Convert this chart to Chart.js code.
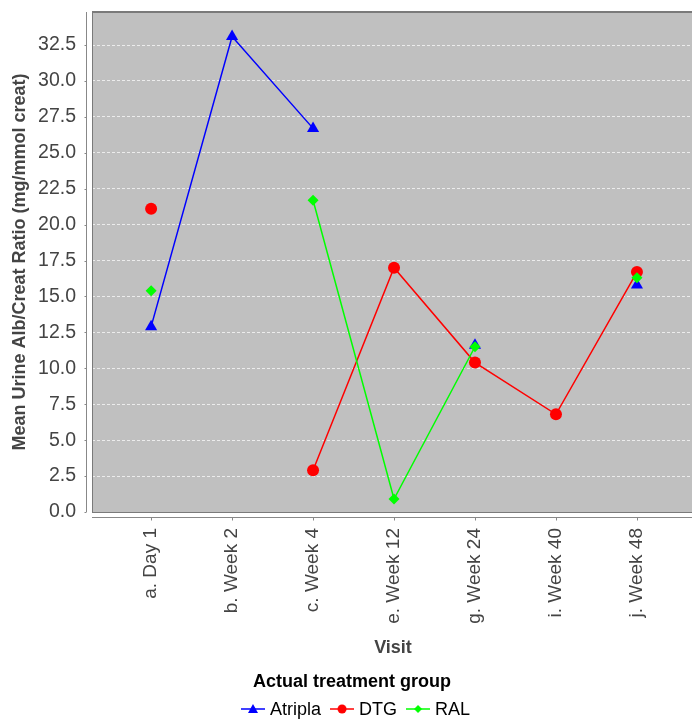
<!DOCTYPE html>
<html>
<head>
<meta charset="utf-8">
<script src="https://cdn.jsdelivr.net/npm/chart.js@4.4.1/dist/chart.umd.min.js"></script>
<style>
  html, body { margin: 0; padding: 0; background: #fff; overflow: hidden; }
  #wrap { width: 692px; height: 719px; position: relative; }
  canvas { display: block; }
</style>
</head>
<body>
<div id="wrap"><canvas id="myChart" width="692" height="719"></canvas></div>
<script>
// visits on the x axis
const visits = ['a. Day 1', 'b. Week 2', 'c. Week 4', 'e. Week 12', 'g. Week 24', 'i. Week 40', 'j. Week 48'];

// mean urine alb/creat ratio per treatment group (null = no value)
const atripla = [12.9, 33.1, 26.7, null, 11.6, null, 15.8];
const dtg = [21.1, null, 2.9, 17.0, 10.4, 6.8, 16.7];
const ral = [15.4, null, 21.7, 0.9, 11.5, null, 16.3];

const yTicks = [0, 2.5, 5, 7.5, 10, 12.5, 15, 17.5, 20, 22.5, 25, 27.5, 30, 32.5];

const FONT = '"Liberation Sans", Arial, sans-serif';

function toPoints(arr) {
    return arr.map((v, i) => ({ x: i, y: v }));
}

// small legend icon: line with the series marker in the middle
function markerIcon(color, style) {
    const c = document.createElement('canvas');
    c.width = 24; c.height = 12;
    const g = c.getContext('2d');
    g.strokeStyle = color;
    g.fillStyle = color;
    g.lineWidth = 1.5;
    g.beginPath(); g.moveTo(0, 6); g.lineTo(24, 6); g.stroke();
    g.beginPath();
    if (style === 'triangle') {
        g.moveTo(12, 1); g.lineTo(17, 10); g.lineTo(7, 10);
    } else if (style === 'circle') {
        g.arc(12, 6, 4.5, 0, Math.PI * 2);
    } else {
        g.moveTo(12, 2); g.lineTo(16, 6); g.lineTo(12, 10); g.lineTo(8, 6);
    }
    g.closePath(); g.fill();
    return c;
}

// later series are painted on top, as in the original
const series = [
    { label: 'Atripla', data: atripla, color: '#0000ff', style: 'triangle', radius: 7, order: 2 },
    { label: 'DTG', data: dtg, color: '#ff0000', style: 'circle', radius: 6, order: 1 },
    { label: 'RAL', data: ral, color: '#00ff00', style: 'rectRot', radius: 5.5, order: 0 }
];

// plot frame, axis lines, titles and legend, drawn like the original
const framePlugin = {
    id: 'frame',
    beforeDraw(chart) {
        const a = chart.chartArea;
        const ctx = chart.ctx;
        ctx.save();
        ctx.fillStyle = '#c0c0c0';
        ctx.fillRect(a.left, a.top, a.right - a.left, a.bottom - a.top);
        ctx.restore();
    },
    afterDraw(chart) {
        const a = chart.chartArea;
        const ctx = chart.ctx;
        const ys = chart.scales.y;
        const xs = chart.scales.x;
        ctx.save();
        // plot outline
        ctx.strokeStyle = '#7a7a7a';
        ctx.lineWidth = 1;
        ctx.strokeRect(a.left + 0.5, a.top + 0.5, a.right - a.left, a.bottom - a.top);
        ctx.lineWidth = 2;
        ctx.beginPath(); ctx.moveTo(a.left, a.top); ctx.lineTo(a.right, a.top); ctx.stroke();
        // y axis line
        ctx.strokeStyle = '#888';
        ctx.lineWidth = 1;
        const axX = a.left - 5.5;
        ctx.beginPath(); ctx.moveTo(axX, a.top); ctx.lineTo(axX, a.bottom); ctx.stroke();
        yTicks.forEach(v => {
            const py = Math.round(ys.getPixelForValue(v)) + 0.5;
            ctx.beginPath(); ctx.moveTo(axX - 2, py); ctx.lineTo(axX, py); ctx.stroke();
        });
        // x axis line
        const axY = a.bottom + 5.5;
        ctx.beginPath(); ctx.moveTo(a.left, axY); ctx.lineTo(a.right, axY); ctx.stroke();
        visits.forEach((v, i) => {
            const px = Math.round(xs.getPixelForValue(i)) + 0.5;
            ctx.beginPath(); ctx.moveTo(px, axY); ctx.lineTo(px, axY + 3); ctx.stroke();
        });
        // axis titles
        ctx.fillStyle = '#444';
        ctx.font = 'bold 18px ' + FONT;
        ctx.textAlign = 'center';
        ctx.textBaseline = 'middle';
        ctx.fillText('Visit', 393, 648);
        ctx.save();
        ctx.translate(20, (a.top + a.bottom) / 2);
        ctx.rotate(-Math.PI / 2);
        ctx.fillText('Mean Urine Alb/Creat Ratio (mg/mmol creat)', 0, 0);
        ctx.restore();
        // legend
        ctx.fillStyle = '#000';
        ctx.fillText('Actual treatment group', 352, 682);
        ctx.font = '18px ' + FONT;
        ctx.textAlign = 'left';
        let x = 241;
        series.forEach(s => {
            ctx.drawImage(s.icon, x, 703);
            x += 29;
            ctx.fillStyle = '#000';
            ctx.fillText(s.label, x, 710);
            x += ctx.measureText(s.label).width + 9;
        });
        ctx.restore();
    }
};

series.forEach(s => { s.icon = markerIcon(s.color, s.style); });

const ctx = document.getElementById('myChart').getContext('2d');
new Chart(ctx, {
    type: 'line',
    data: {
        datasets: series.map(s => ({
            label: s.label,
            data: toPoints(s.data),
            order: s.order,
            borderColor: s.color,
            backgroundColor: s.color,
            borderWidth: 1.5,
            pointStyle: s.style,
            pointRadius: s.radius,
            pointBorderWidth: 0,
            pointHoverRadius: s.radius,
            spanGaps: false,
            tension: 0
        }))
    },
    options: {
        responsive: false,
        animation: false,
        layout: { autoPadding: false, padding: { top: 12, right: 0, bottom: 59, left: 0 } },
        plugins: {
            legend: { display: false },
            tooltip: { enabled: false }
        },
        scales: {
            x: {
                type: 'linear',
                min: -0.73,
                max: 6.68,
                afterBuildTicks: s => { s.ticks = visits.map((v, i) => ({ value: i })); },
                afterFit: s => {
                    s.height = 148;
                    s.paddingLeft = 0; s.paddingRight = 0;
                    s.paddingTop = 0; s.paddingBottom = 0;
                },
                grid: { display: false, drawTicks: false },
                border: { display: false },
                ticks: {
                    callback: v => visits[v],
                    maxRotation: 90,
                    minRotation: 90,
                    padding: 16,
                    color: '#444',
                    font: { family: FONT, size: 19 }
                }
            },
            y: {
                min: 0,
                max: 34.8,
                afterBuildTicks: s => { s.ticks = yTicks.map(v => ({ value: v })); },
                afterFit: s => {
                    s.width = 92;
                    s.paddingLeft = 0; s.paddingRight = 0;
                    s.paddingTop = 0; s.paddingBottom = 0;
                },
                grid: {
                    color: 'rgba(255,255,255,0.7)',
                    borderDash: [3, 2],
                    drawTicks: false,
                    lineWidth: 1
                },
                border: { display: false, dash: [3, 2] },
                ticks: {
                    callback: v => v.toFixed(1),
                    padding: 16,
                    color: '#444',
                    font: { family: FONT, size: 19.5 }
                }
            }
        }
    },
    plugins: [framePlugin]
});
</script>
</body>
</html>
